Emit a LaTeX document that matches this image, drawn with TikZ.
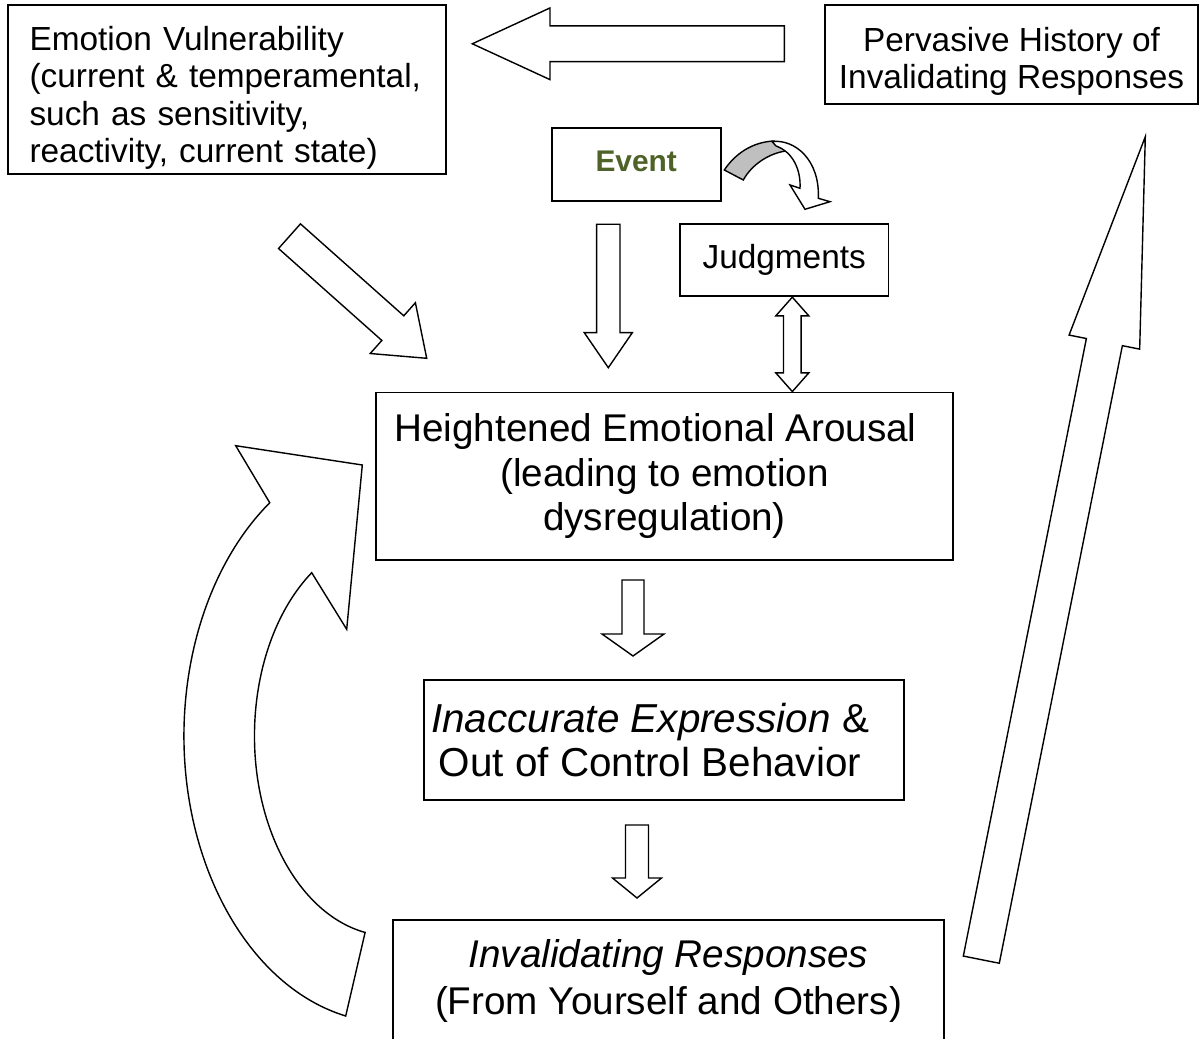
\documentclass[tikz,border=0pt]{standalone}
\usepackage{fontspec}
\setmainfont{Liberation Sans}
\usetikzlibrary{calc}
\definecolor{eventgreen}{RGB}{79,98,40}
\tikzset{
  box/.style={draw, line width=1pt, align=center, inner sep=0pt},
  small/.style={font=\fontsize{19}{21.3}\selectfont},
  large/.style={font=\fontsize{22}{25.5}\selectfont},
  blockarrow/.style={draw, fill=white, line width=0.8pt, line join=miter},
}
% straight block arrow: tail, tip, shaft half width, head half width, head length
\newcommand{\fatarrow}[5]{%
  \path ($(#2)!#5!(#1)$) coordinate (fa-h);
  \draw[blockarrow] ($(#1)!#3!90:(#2)$) -- ($(fa-h)!#3!90:(#2)$) -- ($(fa-h)!#4!90:(#2)$) -- (#2)
    -- ($(fa-h)!#4!-90:(#2)$) -- ($(fa-h)!#3!-90:(#2)$) -- ($(#1)!#3!-90:(#2)$) -- cycle;}
% block arrow with a head at both ends
\newcommand{\dblarrow}[5]{%
  \path ($(#1)!#5!(#2)$) coordinate (da-a) ($(#2)!#5!(#1)$) coordinate (da-b);
  \draw[blockarrow] (#1) -- ($(da-a)!#4!90:(#2)$) -- ($(da-a)!#3!90:(#2)$) -- ($(da-b)!#3!90:(#2)$)
    -- ($(da-b)!#4!90:(#2)$) -- (#2) -- ($(da-b)!#4!-90:(#2)$) -- ($(da-b)!#3!-90:(#2)$)
    -- ($(da-a)!#3!-90:(#2)$) -- ($(da-a)!#4!-90:(#2)$) -- cycle;}

\begin{document}
\begin{tikzpicture}[x=0.02cm, y=0.02cm]
    \useasboundingbox (0,0) rectangle (1202,1038);
    \clip (0,0) rectangle (1202,1038);
    % Top row
    \node[box, small, minimum width=8.76cm, minimum height=3.38cm, text width=7.9cm, align=left] (vuln) at (227,948.5)
        {\rule{0pt}{0.82cm}Emotion Vulnerability\\(current \& temperamental,\\such as sensitivity,\\reactivity, current state)};
    \node[box, small, minimum width=7.46cm, minimum height=1.98cm] (hist) at (1011.5,983.5)
        {\rule{0pt}{0.77cm}Pervasive History of\\Invalidating Responses};
    \node[box, minimum width=3.38cm, minimum height=1.45cm, font=\fontsize{17}{20}\selectfont\bfseries, text=eventgreen] (event) at (636.2,873.5) {Event\strut};
    \node[box, small, minimum width=4.17cm, minimum height=1.44cm] (judg) at (784.2,777.7) {Judgments};
    % Main column
    \node[box, large, minimum width=11.54cm, minimum height=3.35cm] (arousal) at (664.5,561.8)
        {Heightened Emotional Arousal\hspace*{0.36cm}\\(leading to emotion\\dysregulation)};
    \node[box, large, font=\fontsize{23}{25}\selectfont, minimum width=9.6cm, minimum height=2.4cm] (expr) at (664,298)
        {\textit{Inaccurate Expression} \&\hspace*{0.56cm}\\Out of Control Behavior\hspace*{0.56cm}};
    \node[box, large, font=\fontsize{22}{26.6}\selectfont, minimum width=11.02cm, minimum height=2.44cm] (inval) at (668.5,57)
        {\textit{Invalidating Responses}\\(From Yourself and Others)};
    % Arrow ends
    \coordinate (h1) at (784.3,994.2);
    \coordinate (h2) at (472.3,994.2);
    \coordinate (v1) at (289.5,801.8);
    \coordinate (v2) at (426.7,679.7);
    \coordinate (e1) at (608.3,813.7);
    \coordinate (e2) at (608.3,670.3);
    \coordinate (j1) at ($(judg.south)+(8.1,0)$);
    \coordinate (j2) at (j1 |- arousal.north);
    \coordinate (a1) at (633,458);
    \coordinate (a2) at (633,382);
    \coordinate (x1) at (637,213);
    \coordinate (x2) at (637,140);
    \coordinate (r1) at (981.3,78.35);
    \coordinate (r2) at (1145.3,901.3);
    % Straight block arrows
    \fatarrow{h1}{h2}{0.357cm}{0.717cm}{1.554cm}
    \fatarrow{v1}{v2}{0.33cm}{0.68cm}{0.908cm}
    \fatarrow{e1}{e2}{0.233cm}{0.48cm}{0.7cm}
    \dblarrow{j1}{j2}{0.177cm}{0.33cm}{0.374cm}
    \fatarrow{a1}{a2}{0.22cm}{0.62cm}{0.44cm}
    \fatarrow{x1}{x2}{0.23cm}{0.49cm}{0.4cm}
    \fatarrow{r1}{r2}{0.367cm}{0.72cm}{4.19cm}
    % Curved arrow back up to the arousal box
    \draw[blockarrow] (362.3,573) -- (346.7,408.7) -- (311.7,465.3)
        arc[start angle=125.3, end angle=259.4, x radius=2.712cm, y radius=4cm]
        -- (345.7,22) arc[start angle=257.6, end angle=125.7, x radius=4.12cm, y radius=5.74cm]
        -- (235.7,592.3) -- cycle;
    % Small curved arrow from Event to Judgments
    \draw[fill=gray!50, line width=0.8pt] (724.3,868) .. controls (735,884) and (752,896) .. (774,897)
        -- (786,887) .. controls (770,885) and (752,874) .. (743.3,858) -- cycle;
    \draw[blockarrow] (772,896.5) .. controls (795,899) and (820,878) .. (818.3,839.7) -- (830,836.3)
        -- (805,828.7) -- (790,853) -- (800,849.7) .. controls (801,868) and (793,886) .. (776,892) -- cycle;
\end{tikzpicture}
\end{document}
